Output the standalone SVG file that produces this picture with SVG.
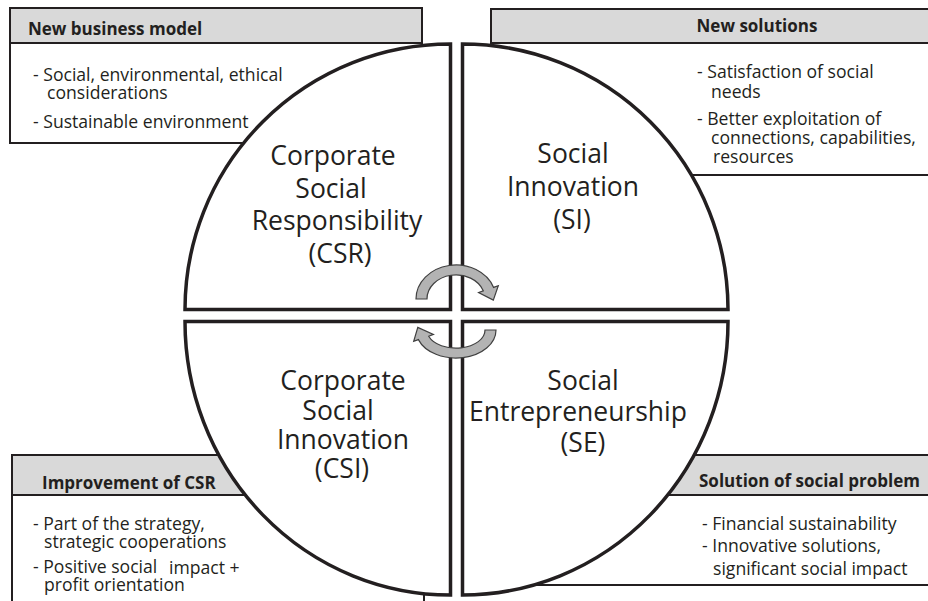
<svg xmlns="http://www.w3.org/2000/svg" width="928" height="601" viewBox="0 0 928 601">
<defs>
<style>
.box{fill:#fff;stroke:#231f20;stroke-width:2}
.hdr{fill:#d9d9d9;stroke:#231f20;stroke-width:2}
.q{fill:#fff;stroke:#231f20;stroke-width:3.5;stroke-linejoin:miter}
.ht{font-family:"Open Sans","Liberation Sans",sans-serif;font-weight:bold;font-size:17px;fill:#231f20}
.bt{font-family:"Open Sans","Liberation Sans",sans-serif;font-size:17.6px;fill:#231f20}
.big{font-family:"Open Sans","Liberation Sans",sans-serif;font-size:26.5px;fill:#231f20;text-anchor:middle}
.arr{fill:#b3b3b3;stroke:#404040;stroke-width:1.2;stroke-linejoin:miter}
</style>
</defs>
<rect width="928" height="601" fill="#fff"/>
<g id="box-new-business-model">
<rect class="box" x="10" y="8" width="412" height="135"/>
<rect class="hdr" x="10" y="8" width="412" height="35"/>
</g>
<g id="box-new-solutions">
<rect class="box" x="491" y="9" width="500" height="166"/>
<rect class="hdr" x="491" y="9" width="500" height="34"/>
</g>
<g id="box-improvement-csr">
<rect class="box" x="12" y="455" width="412" height="200"/>
<rect class="hdr" x="12" y="455" width="412" height="40"/>
</g>
<g id="box-solution-social-problem">
<rect class="box" x="470" y="455" width="520" height="130"/>
<rect class="hdr" x="470" y="455" width="520" height="40"/>
</g>
<g id="q-csr">
<path class="q" d="M450.5,309.5 L185,309.5 A265.5 265.5 0 0 1 450.5,44 Z"/>
<text class="big" x="333" y="165">Corporate</text>
<text class="big" x="331" y="198">Social</text>
<text class="big" x="337" y="230">Responsibility</text>
<text class="big" x="340" y="263">(CSR)</text>
</g>
<g id="q-si">
<path class="q" d="M462.5,309.5 L462.5,44 A265.5 265.5 0 0 1 728,309.5 Z"/>
<text class="big" x="573" y="163">Social</text>
<text class="big" x="573" y="196">Innovation</text>
<text class="big" x="572" y="229">(SI)</text>
</g>
<g id="q-csi">
<path class="q" d="M450.5,321.5 L450.5,595 A265.5 273.5 0 0 1 185,321.5 Z"/>
<text class="big" x="343" y="390">Corporate</text>
<text class="big" x="338" y="420">Social</text>
<text class="big" x="343" y="449">Innovation</text>
<text class="big" x="342" y="478">(CSI)</text>
</g>
<g id="q-se">
<path class="q" d="M462.5,321.5 L728,321.5 A265.5 273.5 0 0 1 462.5,595 Z"/>
<text class="big" x="583" y="390">Social</text>
<text class="big" x="578" y="421">Entrepreneurship</text>
<text class="big" x="583" y="452">(SE)</text>
</g>
<g id="text-new-business-model">
<text class="ht" x="28" y="35">New business model</text>
<text class="bt" x="33" y="81">- Social, environmental, ethical</text>
<text class="bt" x="47" y="99">considerations</text>
<text class="bt" x="33" y="128">- Sustainable environment</text>
</g>
<g id="text-new-solutions">
<text class="ht" x="757" y="32" text-anchor="middle">New solutions</text>
<text class="bt" x="697" y="78">- Satisfaction of social</text>
<text class="bt" x="711" y="98">needs</text>
<text class="bt" x="697" y="125">- Better exploitation of</text>
<text class="bt" x="711" y="144">connections, capabilities,</text>
<text class="bt" x="713" y="163">resources</text>
</g>
<g id="text-improvement-csr">
<text class="ht" x="42" y="489">Improvement of CSR</text>
<text class="bt" x="33" y="530">- Part of the strategy,</text>
<text class="bt" x="44" y="548">strategic cooperations</text>
<text class="bt" x="33" y="573">- Positive social</text>
<text class="bt" x="169" y="574">impact +</text>
<text class="bt" x="44" y="591">profit orientation</text>
</g>
<g id="text-solution-social-problem">
<text class="ht" x="699" y="487">Solution of social problem</text>
<text class="bt" x="702" y="530">- Financial sustainability</text>
<text class="bt" x="702" y="552">- Innovative solutions,</text>
<text class="bt" x="713" y="575">significant social impact</text>
</g>
<g id="connectors">
<path class="arr" d="M416,299 A40 34 0 0 1 493.6,287.4 L498.3,285.7 L493.3,300.1 L478.6,292.5 L483.3,290.8 A29 24 0 0 0 427,299 Z"/>
<path class="arr" d="M496,330 A40 28 0 0 1 418.4,339.6 L413.7,341.3 L417.8,327.4 L433.4,334.4 L428.7,336.2 A29 18 0 0 0 485,330 Z"/>
</g>
</svg>
